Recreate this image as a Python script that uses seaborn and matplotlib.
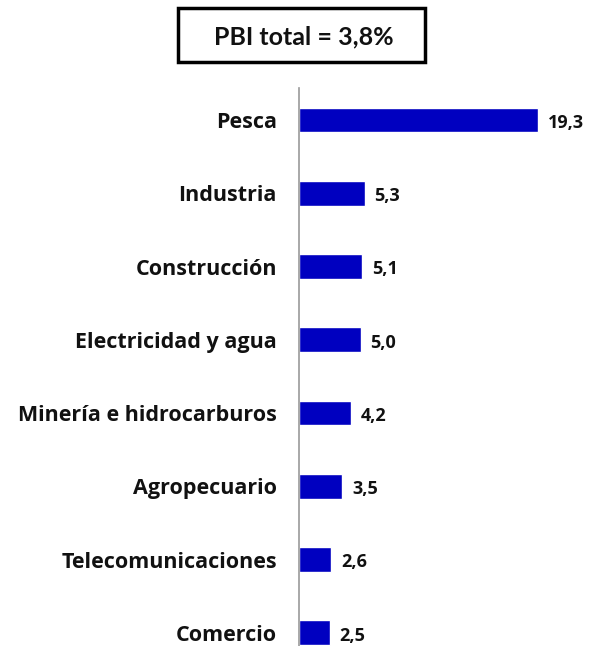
import matplotlib
matplotlib.use("Agg")
import matplotlib.pyplot as plt
import matplotlib.patches as patches
import seaborn as sns
import pandas as pd

sectores = ["Pesca", "Industria", "Construcción", "Electricidad y agua",
            "Minería e hidrocarburos", "Agropecuario", "Telecomunicaciones", "Comercio"]
crecimiento = [19.3, 5.3, 5.1, 5.0, 4.2, 3.5, 2.6, 2.5]
titulo = "PBI total = 3,8%"

df = pd.DataFrame({"sector": sectores, "valor": crecimiento})

sns.set_style("white")
plt.rcParams['font.family'] = ['Open Sans', 'DejaVu Sans']

fig = plt.figure(figsize=(5.92, 6.46), dpi=100)
ax = fig.add_axes([299 / 592, 0.0, 0.46, 558 / 646])

sns.barplot(data=df, x="valor", y="sector", orient="h", color="#0000C0",
            width=0.34, saturation=1, ax=ax)

ax.set_xlim(0, 22)
ax.set_ylim(7.18, -0.437)

for i, v in enumerate(crecimiento):
    ax.annotate(f"{v:.1f}".replace(".", ","), xy=(v, i), xytext=(7, -2),
                textcoords="offset points", va="center", ha="left",
                fontsize=13, fontweight="bold", color="#111111")

for s in ["top", "right", "bottom"]:
    ax.spines[s].set_visible(False)
ax.spines["left"].set_color("#999999")
ax.spines["left"].set_linewidth(1.2)
ax.set_xticks([])
ax.set_xlabel("")
ax.set_ylabel("")
ax.tick_params(axis="y", length=0, pad=16)
for lbl in ax.get_yticklabels():
    lbl.set_fontsize(15.5)
    lbl.set_fontweight("bold")
    lbl.set_color("#111111")

# Recuadro del título
box = patches.Rectangle((178 / 592, 1 - 62 / 646), 247 / 592, 54 / 646,
                        transform=fig.transFigure, fill=False,
                        edgecolor="black", linewidth=2.5)
fig.add_artist(box)
fig.text(304 / 592, 1 - 37 / 646, titulo, ha="center", va="center",
         fontsize=18, fontweight="bold", color="#111111",
         family=["Lato", "DejaVu Sans"])

fig.savefig("out.png", dpi=100, facecolor="white")
